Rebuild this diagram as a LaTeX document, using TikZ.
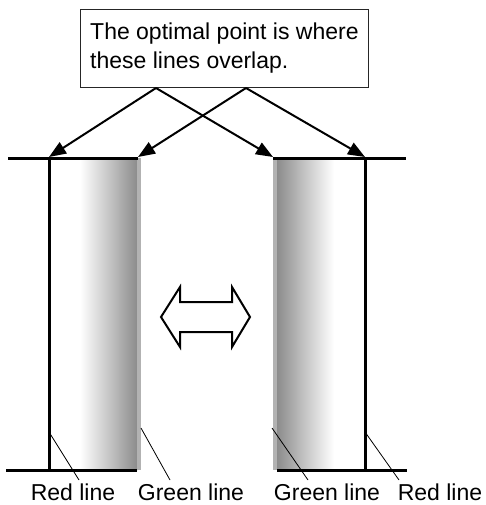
\documentclass[tikz,border=0pt]{standalone}
\usepackage{fontspec}
\setmainfont{Liberation Sans}
\usetikzlibrary{arrows.meta}
\begin{document}
\begin{tikzpicture}[x=1pt,y=-1pt,
  thick line/.style={line width=3pt},
  pointer/.style={line width=2pt,-{Triangle[length=17pt,width=13pt]}},
  leader/.style={line width=0.8pt},
  lbl/.style={font=\fontsize{23}{26}\selectfont,anchor=base,inner sep=0pt}]
\useasboundingbox (0,0) rectangle (485,505);
% panels
\shade[left color=white,right color=black!45] (80,158) rectangle (137,470);
\fill[black!30] (137,158) rectangle (141,470);
\shade[left color=black!45,right color=white] (277,158) rectangle (334,470);
\fill[black!30] (273,158) rectangle (277,470);
% top and bottom lines
\coordinate (tl1) at (8,158); \coordinate (tl2) at (138,158);
\coordinate (tr1) at (273,158); \coordinate (tr2) at (406,158);
\coordinate (bl1) at (6,470); \coordinate (bl2) at (137,470);
\coordinate (br1) at (277,470); \coordinate (br2) at (407,470);
\draw[thick line] (tl1) -- (tl2);
\draw[thick line] (tr1) -- (tr2);
\draw[thick line] (bl1) -- (bl2);
\draw[thick line] (br1) -- (br2);
% red lines
\coordinate (rl1) at (49,157); \coordinate (rl2) at (49,470);
\coordinate (rr1) at (365,157); \coordinate (rr2) at (365,470);
\draw[thick line] (rl1) -- (rl2);
\draw[thick line] (rr1) -- (rr2);
% text box
\node[draw=black!85,line width=1pt,anchor=north west,minimum width=288,minimum height=78,inner sep=0pt] (box) at (80,9) {};
\node[anchor=north west,inner sep=0pt,align=left,font=\fontsize{23}{29}\selectfont] (boxtext) at (90,23)
  {The optimal point is where\\these lines overlap.};
\coordinate (s1) at (156,88); \coordinate (s2) at (246,88);
\coordinate (gl) at (138,157); \coordinate (gr) at (273,157);
\draw[pointer] (s1) -- (rl1);
\draw[pointer] (s1) -- (gr);
\draw[pointer] (s2) -- (gl);
\draw[pointer] (s2) -- (rr1);
% double arrow
\draw[line width=2pt,line join=miter,fill=white] (161,317) -- (180,287) -- (180,302) -- (232,302) -- (232,287)
  -- (250,317) -- (232,347) -- (232,332) -- (180,332) -- (180,347) -- cycle;
% leaders and labels
\coordinate (p1) at (49,432); \coordinate (q1) at (79,480);
\coordinate (p2) at (141,428); \coordinate (q2) at (170,480);
\coordinate (p3) at (272,428); \coordinate (q3) at (308,480);
\coordinate (p4) at (365,432); \coordinate (q4) at (399,480);
\draw[leader] (p1) -- (q1);
\draw[leader] (p2) -- (q2);
\draw[leader] (p3) -- (q3);
\draw[leader] (p4) -- (q4);
\node[lbl] (L1) at (73,500) {Red line};
\node[lbl] (L2) at (191,500) {Green line};
\node[lbl] (L3) at (327,500) {Green line};
\node[lbl] (L4) at (440,500) {Red line};
\end{tikzpicture}
\end{document}
